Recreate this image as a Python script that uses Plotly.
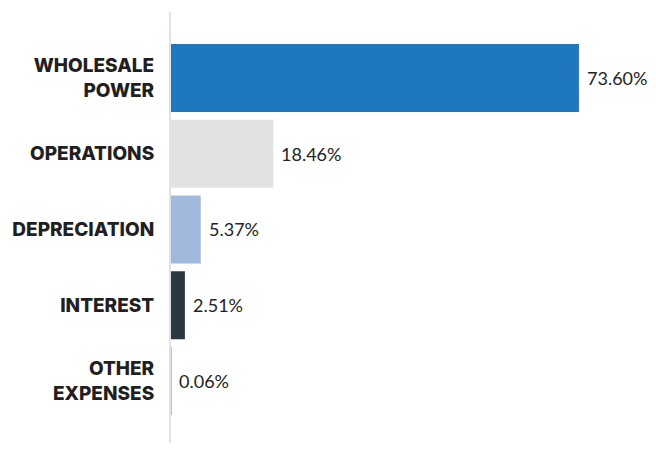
import plotly.graph_objects as go

categories = ["WHOLESALE<br>POWER", "OPERATIONS", "DEPRECIATION", "INTEREST", "OTHER<br>EXPENSES"]
values = [73.60, 18.46, 5.37, 2.51, 0.06]
colors = ["#1f77bf", "#e1e2e4", "#a2b9de", "#2c3840", "#b4c6e3"]
labels = [f"{v:.2f}%" for v in values]

fig = go.Figure()
fig.add_trace(go.Bar(
    x=values, y=categories, orientation="h",
    marker=dict(color=colors, line=dict(width=0)),
    width=0.898,
    hoverinfo="skip",
))
for v, c, t in zip(values, categories, labels):
    fig.add_annotation(x=v, y=c, text=t, showarrow=False, xanchor="left",
                       xshift=6, font=dict(family="Lato", size=18, color="#232323", weight=400))

fig.update_layout(
    width=648, height=435,
    margin=dict(l=163, r=0, t=4, b=0),
    paper_bgcolor="white", plot_bgcolor="white",
    showlegend=False,
    xaxis=dict(range=[0, 87.5], visible=False, fixedrange=True),
    yaxis=dict(range=[4.819, -0.871], showline=True, linecolor="#e2e2e2", linewidth=2,
               showgrid=False, zeroline=False, ticks="", ticklabelstandoff=11,
               tickfont=dict(family="Inter", size=19, color="#231f20", weight=800)),
    font=dict(family="Lato"),
)
fig.write_html("out.html")
